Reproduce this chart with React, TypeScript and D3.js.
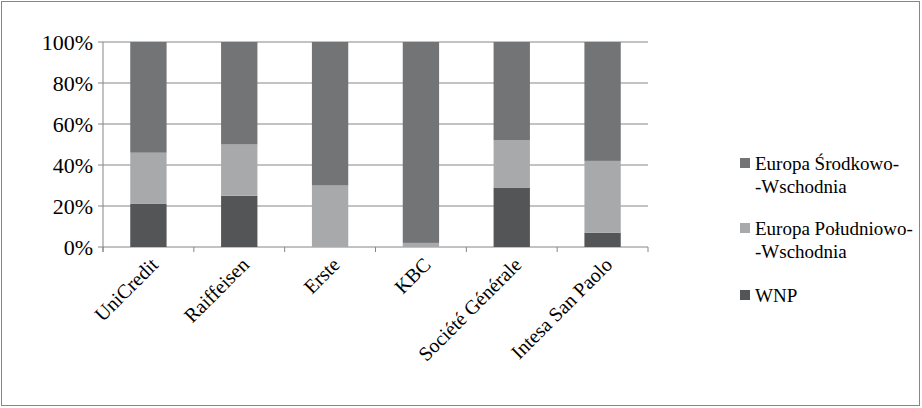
import React, { useEffect, useRef } from 'react';
import * as d3 from 'd3';

const categories = ['UniCredit', 'Raiffeisen', 'Erste', 'KBC', 'Société Générale', 'Intesa San Paolo'];
const wnp = [21, 25, 0, 0, 29, 7];
const poludniowo = [25, 25, 30, 2, 23, 35];
const srodkowo = [54, 50, 70, 98, 48, 58];
const ticks = [0, 20, 40, 60, 80, 100];

const series = [
  { name: 'WNP', values: wnp, color: '#545557' },
  { name: 'Europa Południowo-', name2: '-Wschodnia', values: poludniowo, color: '#a8a9ab' },
  { name: 'Europa Środkowo-', name2: '-Wschodnia', values: srodkowo, color: '#737476' },
];

export default function App() {
  const ref = useRef<SVGSVGElement>(null);

  useEffect(() => {
    const svg = d3.select(ref.current);
    svg.selectAll('*').remove();
    const left = 103, right = 648, top = 42, bottom = 247;
    const font = "'Liberation Serif', 'Tinos', 'Times New Roman', 'DejaVu Serif', serif";

    svg.append('rect').attr('x', 1.5).attr('y', 1.5).attr('width', 918).attr('height', 404)
      .attr('fill', '#fff').attr('stroke', '#868686');

    const x = d3.scaleBand().domain(categories).range([left, right]).paddingInner(0.6).paddingOuter(0.3);
    const y = d3.scaleLinear().domain([0, 100]).range([bottom, top]);

    const g = svg.append('g').style('font-family', font);
    g.selectAll('.grid').data(ticks).enter().append('line')
      .attr('x1', left).attr('x2', right).attr('y1', d => y(d)).attr('y2', d => y(d))
      .attr('stroke', '#868686');
    g.append('line').attr('x1', left).attr('x2', left).attr('y1', top).attr('y2', bottom + 5).attr('stroke', '#868686');
    g.selectAll('.ytick').data(ticks).enter().append('line')
      .attr('x1', left - 5).attr('x2', left).attr('y1', d => y(d)).attr('y2', d => y(d)).attr('stroke', '#868686');
    const step = (right - left) / categories.length;
    d3.range(categories.length + 1).forEach(i => {
      g.append('line').attr('x1', left + i * step).attr('x2', left + i * step)
        .attr('y1', bottom).attr('y2', bottom + 5).attr('stroke', '#868686');
    });
    g.selectAll('.ylab').data(ticks).enter().append('text')
      .attr('x', left - 10).attr('y', d => y(d)).attr('dy', '0.35em').attr('text-anchor', 'end')
      .attr('font-size', 22).text(d => d + '%');

    const stack = categories.map((c, i) => {
      let acc = 0;
      return series.map(s => { const y0 = acc; acc += s.values[i]; return { c, y0, y1: acc, color: s.color }; });
    }).flat();
    g.selectAll('.bar').data(stack).enter().append('rect')
      .attr('x', d => x(d.c)!).attr('width', x.bandwidth())
      .attr('y', d => y(d.y1)).attr('height', d => y(d.y0) - y(d.y1)).attr('fill', d => d.color);

    categories.forEach((c, i) => {
      const cx = left + (i + 0.5) * step + 6;
      g.append('text').attr('transform', `translate(${cx},${bottom + 14}) rotate(-45)`)
        .attr('text-anchor', 'end').attr('dy', '0.35em').attr('font-size', 20).text(c);
    });

    const legend = [...series].reverse();
    const ly = [163, 228, 295];
    legend.forEach((s, i) => {
      g.append('rect').attr('x', 740).attr('y', ly[i] - 5).attr('width', 10).attr('height', 10).attr('fill', s.color);
      g.append('text').attr('x', 755).attr('y', ly[i]).attr('dy', '0.35em').attr('font-size', 19).text(s.name);
      if (s.name2) g.append('text').attr('x', 755).attr('y', ly[i] + 23).attr('dy', '0.35em')
        .attr('font-size', 19).text(s.name2);
    });
  }, []);

  return <svg ref={ref} width={922} height={408} style={{ position: 'absolute', left: 0, top: 0 }} />;
}
